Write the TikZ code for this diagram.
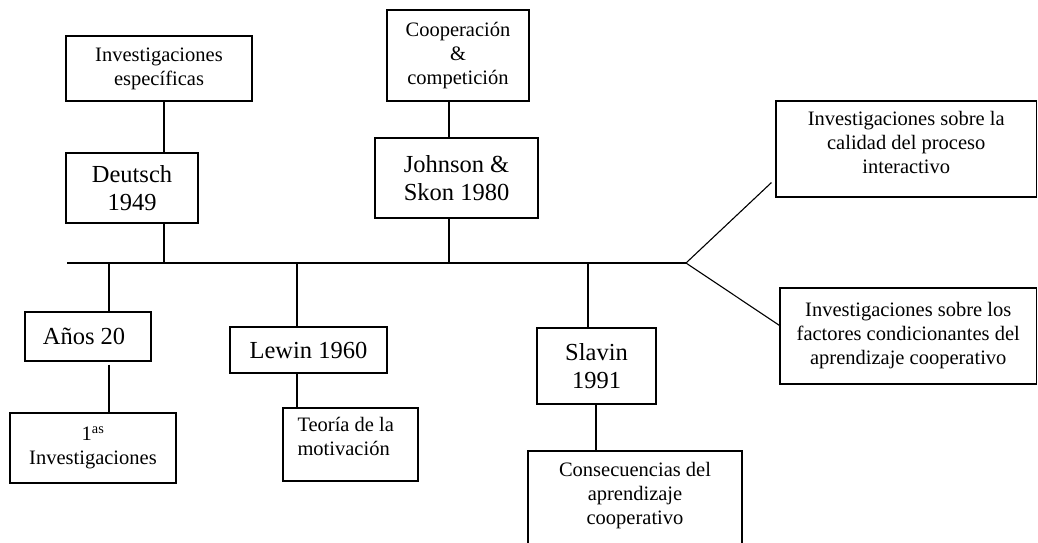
\documentclass[tikz,border=0pt]{standalone}
\usepackage{fontspec}
\setmainfont{Liberation Serif}
\begin{document}
\begin{tikzpicture}[x=1pt,y=-1pt,
  box/.style={draw, line width=1.1pt, rectangle, inner sep=0pt, align=center},
  sm/.style={font=\fontsize{20.5}{24}\selectfont},
  lg/.style={font=\fontsize{24.5}{28}\selectfont},
  conn/.style={line width=1.1pt}]
\useasboundingbox (0,0) rectangle (1038,542);
% nodes
\node[box,sm,minimum width=186pt,minimum height=65pt] (inv) at (159,68.5) {Investigaciones\\específicas};
\node[box,lg,minimum width=132pt,minimum height=70pt] (deutsch) at (132,188) {Deutsch\\1949};
\node[box,sm,minimum width=142pt,minimum height=91pt] (coop) at (458,55.5) {Cooperación\\\&\\competición};
\node[box,lg,minimum width=163pt,minimum height=80pt] (johnson) at (456.5,178) {Johnson \&\\Skon 1980};
\node[box,sm,minimum width=260.5pt,minimum height=96pt] (calidad) at (906.25,149) {\parbox[c][76pt][t]{250pt}{\centering Investigaciones sobre la\\calidad del proceso\\interactivo}};
\node[box,sm,minimum width=256.5pt,minimum height=96pt] (factores) at (908.25,336) {Investigaciones sobre los\\factores condicionantes del\\aprendizaje cooperativo};
\node[box,lg,minimum width=126pt,minimum height=49pt] (anos) at (88,336.5) {Años 20\hspace{8pt}};
\node[box,sm,minimum width=166pt,minimum height=70pt] (prim) at (93,448) {1\textsuperscript{as}\\Investigaciones};
\node[box,lg,minimum width=157pt,minimum height=46pt] (lewin) at (308.5,350) {Lewin 1960};
\node[box,sm,minimum width=135pt,minimum height=73pt] (teoria) at (350.5,444.5) {\parbox[c][60pt][t]{106pt}{\raggedright\vspace{3pt}Teoría de la\\motivación}};
\node[box,lg,minimum width=119pt,minimum height=76pt] (slavin) at (596.5,366) {Slavin\\1991};
\node[box,sm,minimum width=214pt,minimum height=110pt] (consec) at (635,506) {\parbox[c][100pt][t]{200pt}{\centering\vspace{6pt}Consecuencias del\\aprendizaje\\cooperativo}};
% timeline coordinates
\coordinate (tl0) at (67,263);
\coordinate (tlE) at (686,263);
\coordinate (tA) at (109,263);
\coordinate (tD) at (164,263);
\coordinate (tL) at (297,263);
\coordinate (tJ) at (449,263);
\coordinate (tS) at (588,263);
\coordinate (sC) at (596,400);
% connectors
\draw[conn] (tl0) -- (tlE);
\draw[conn] (inv.south -| tD) -- (deutsch.north -| tD);
\draw[conn] (deutsch.south -| tD) -- (tD);
\draw[conn] (coop.south -| tJ) -- (johnson.north -| tJ);
\draw[conn] (johnson.south -| tJ) -- (tJ);
\draw[conn] (tA) -- (anos.north -| tA);
\draw[conn] ([yshift=-3pt]anos.south -| tA) -- (prim.north -| tA);
\draw[conn] (tL) -- (lewin.north -| tL);
\draw[conn] (lewin.south -| tL) -- (teoria.north -| tL);
\draw[conn] (tS) -- (slavin.north -| tS);
\draw[conn] (slavin.south -| sC) -- (consec.north -| sC);
\draw[conn] (tlE) -- ([xshift=-4pt,yshift=15pt]calidad.south west);
\draw[conn] (tlE) -- ([yshift=-38pt]factores.north west);
\end{tikzpicture}
\end{document}
